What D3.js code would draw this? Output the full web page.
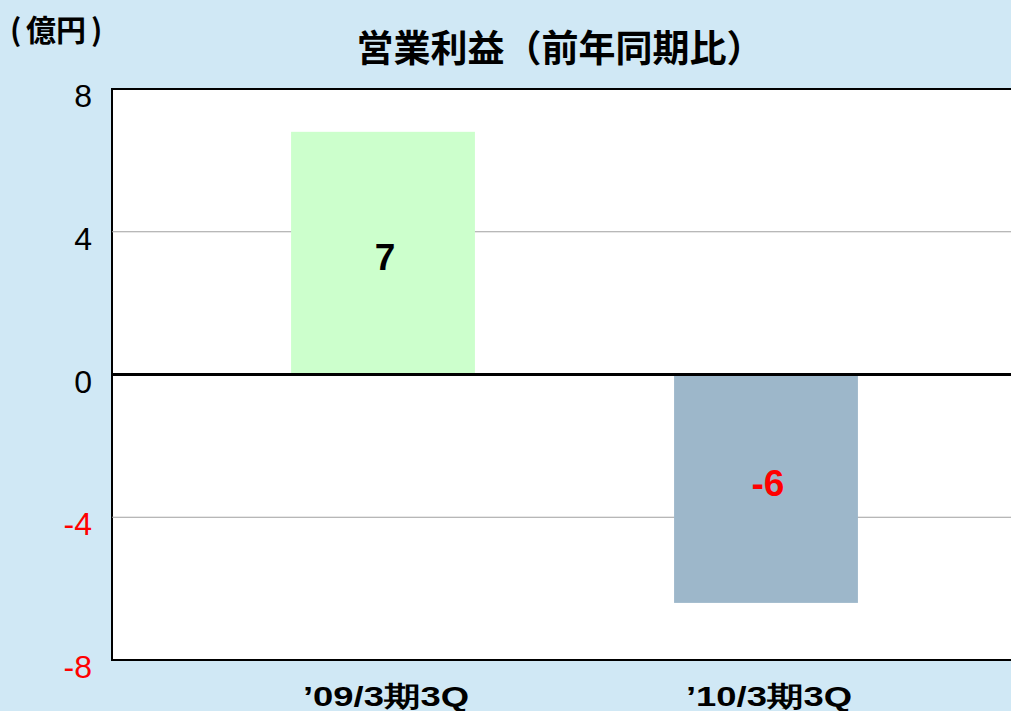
<!DOCTYPE html>
<html>
<head>
<meta charset="utf-8">
<script src="https://cdn.jsdelivr.net/npm/d3@7"></script>
<style>
  html, body { margin: 0; padding: 0; background: #d0e8f5; overflow: hidden; }
  svg { display: block; }
</style>
</head>
<body>
<div id="chart"></div>
<script>
// data
const categories = ["’09/3期3Q", "’10/3期3Q"];
const values = [6.8, -6.4];
const valueLabels = ['7', '-6'];
const barColors = ['#ccffcc', '#9db7ca'];
const yTicks = [8, 4, 0, -4, -8];

const W = 1011, H = 711;
const plot = {left: 112, top: 89, right: 1020, bottom: 660};

const svg = d3.select('#chart').append('svg')
  .attr('width', W)
  .attr('height', H);

svg.append('rect')
  .attr('width', W).attr('height', H)
  .attr('fill', '#d0e8f5');

// plot area
svg.append('rect')
  .attr('x', plot.left).attr('y', plot.top)
  .attr('width', plot.right - plot.left)
  .attr('height', plot.bottom - plot.top)
  .attr('fill', '#ffffff')
  .attr('stroke', '#000')
  .attr('stroke-width', 2);

var y = d3.scaleLinear()
  .domain([-8, 8])
  .range([plot.bottom, plot.top]);

var x = d3.scaleBand()
  .domain(categories)
  .range([191.5, 957.5])
  .paddingInner(0.52)
  .paddingOuter(0.26);

// gridlines
svg.append('g')
  .selectAll('line')
  .data(yTicks.filter(d => d != 0 && Math.abs(d) != 8))
  .enter()
  .append('line')
    .attr('x1', plot.left).attr('x2', plot.right)
    .attr('y1', d => y(d)).attr('y2', d => y(d))
    .attr('stroke', '#a0a0a0')
    .attr('stroke-width', 1);

// bars
svg.append('g')
  .selectAll('rect')
  .data(values)
  .enter()
  .append('rect')
    .attr('x', (d, i) => x(categories[i]))
    .attr('width', x.bandwidth())
    .attr('y', d => d > 0 ? y(d) : y(0))
    .attr('height', d => Math.abs(y(d) - y(0)))
    .attr('fill', (d, i) => barColors[i]);

// zero line
svg.append('line')
  .attr('x1', plot.left).attr('x2', plot.right)
  .attr('y1', y(0)).attr('y2', y(0))
  .attr('stroke', '#000')
  .attr('stroke-width', 3);

// y axis
var yAxis = svg.append('g')
  .attr('transform', 'translate(' + plot.left + ',0)')
  .call(d3.axisLeft(y).tickValues(yTicks).tickSize(0).tickPadding(20).tickFormat(d => String(d)));
yAxis.select('.domain').remove();
yAxis.selectAll('text')
  .attr('dy', '0.55em')
  .style('font-family', 'Liberation Sans, Arial, sans-serif')
  .style('font-size', '32px')
  .attr('fill', d => d < 0 ? '#ff0000' : '#000');

// x axis labels
svg.append('g')
  .selectAll('text')
  .data(categories)
  .enter()
  .append('text')
    .attr('x', d => x(d) + x.bandwidth() / 2 + 3)
    .attr('y', 706)
    .attr('text-anchor', 'middle')
    .style('font-family', '"Liberation Sans Narrow", "Liberation Sans", Arial, sans-serif')
    .style('font-weight', 'bold')
    .style('font-size', '28px')
    .attr('textLength', 166)
    .attr('lengthAdjust', 'spacingAndGlyphs')
    .text(d => d);

// value labels
svg.append('g')
  .selectAll('text')
  .data(values)
  .enter()
  .append('text')
    .attr('x', (d, i) => x(categories[i]) + x.bandwidth() / 2 + 2)
    .attr('y', d => y(d * 0.48) + 12)
    .attr('text-anchor', 'middle')
    .style('font-family', 'Liberation Sans, Arial, sans-serif')
    .style('font-weight', 'bold')
    .style('font-size', '37px')
    .attr('fill', d => d < 0 ? '#ff0000' : '#000')
    .text((d, i) => valueLabels[i]);

// title
svg.append('text')
  .attr('x', 560).attr('y', 62)
  .attr('text-anchor', 'middle')
  .style('font-family', '"Noto Sans CJK JP", sans-serif')
  .style('font-weight', 'bold')
  .style('font-size', '37px')
  .text('営業利益（前年同期比）');

// unit label
var unit = svg.append('text')
  .attr('y', 41)
  .style('font-family', '"Noto Sans CJK JP", sans-serif')
  .style('font-weight', 'bold')
  .style('font-size', '30px');
unit.append('tspan').attr('x', 10).text('(');
unit.append('tspan').attr('x', 26).text('億円');
unit.append('tspan').attr('x', 91).text(')');
</script>
</body>
</html>
